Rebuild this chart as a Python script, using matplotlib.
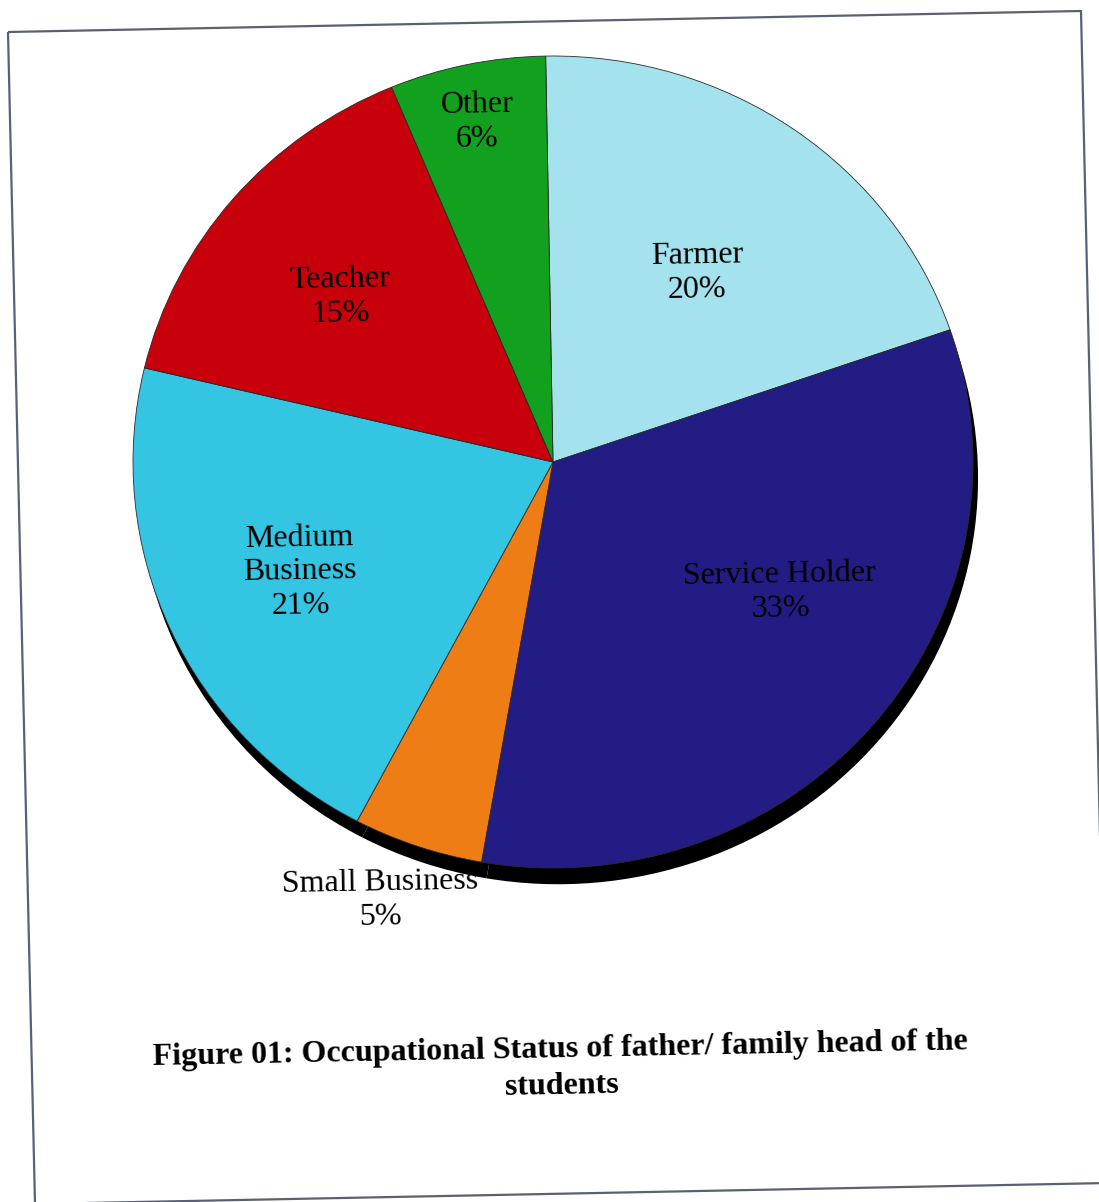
import matplotlib
matplotlib.use("Agg")
import matplotlib.pyplot as plt
from matplotlib.patches import Polygon

# ---- data ----
categories = ["Farmer", "Service Holder", "Small Business", "Medium Business", "Teacher", "Other"]
label_texts = ["Farmer", "Service Holder", "Small Business", "Medium\nBusiness", "Teacher", "Other"]
values = [20, 33, 5, 21, 15, 6]
colors = ["#a4e2ee", "#231c85", "#ef7d16", "#34c5e2", "#c8000c", "#12a01f"]
title = "Figure 01: Occupational Status of father/ family head of the\nstudents"

W, H = 1099, 1202
fig = plt.figure(figsize=(W / 100, H / 100), dpi=100)
fig.patch.set_facecolor("white")

def fx(x):
    return x / W

def fy(y):
    return 1 - y / H

# frame (slightly rotated scan)
frame = Polygon([(fx(8), fy(32)), (fx(1081), fy(11)), (fx(1108), fy(1183)), (fx(35), fy(1204))],
                closed=True, fill=False, edgecolor="#5a6272", linewidth=1.6,
                transform=fig.transFigure)
fig.add_artist(frame)

# pie axes (elliptical pie)
cx, cy, rx, ry = 553, 462, 420, 406
ax = fig.add_axes([fx(cx - rx), fy(cy + ry + 0.06 * ry), 2.05 * rx / W, 2.06 * ry / H])

# shadow
ax.pie(values, radius=1.0, center=(0.012, -0.04), startangle=91, counterclock=False,
       colors=["black"] * len(values), wedgeprops=dict(linewidth=0), frame=True)
wedges, _ = ax.pie(values, radius=1.0, center=(0, 0), startangle=91, counterclock=False,
                   colors=colors, wedgeprops=dict(edgecolor="#2a2a2a", linewidth=0.6), frame=True)
ax.set_xlim(-1, 1.05)
ax.set_ylim(-1.06, 1)
ax.set_aspect("auto")
ax.axis("off")

# labels (pixel positions of label centres)
label_px = [(697, 273), (780, 592), (380, 900), (300, 572), (340, 297), (477, 122)]
for txt, v, (px, py) in zip(label_texts, values, label_px):
    fig.text(fx(px), fy(py), f"{txt}\n{v}%", ha="center", va="center",
             fontsize=23, family="Liberation Serif", color="black",
             linespacing=1.22, rotation=1)

fig.text(fx(561), fy(1068), title, ha="center", va="center", fontsize=23,
         fontweight="bold", family="Liberation Serif", color="black",
         linespacing=1.35, rotation=1.1)

fig.savefig("out.png", dpi=100, facecolor="white")
